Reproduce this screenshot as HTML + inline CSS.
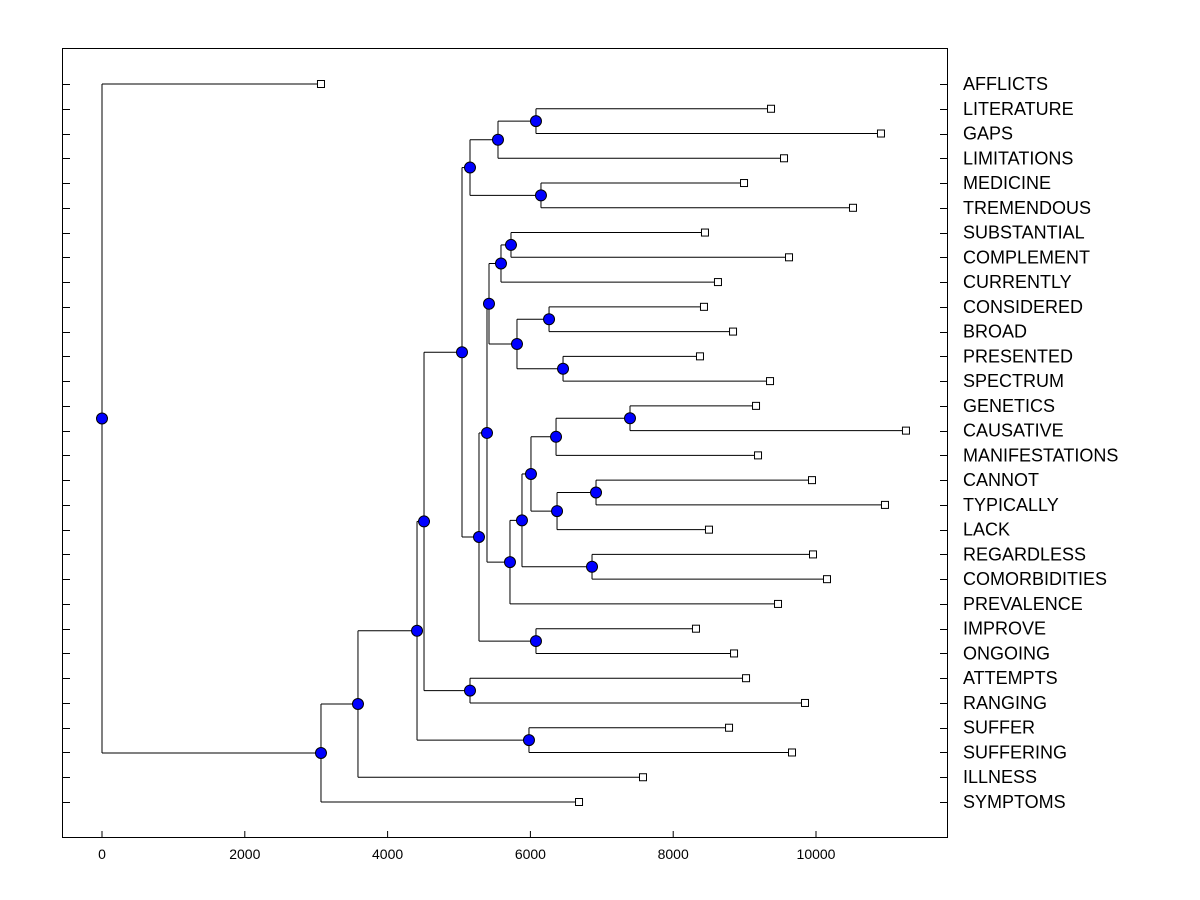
<!DOCTYPE html>
<html><head><meta charset="utf-8"><style>
html,body{margin:0;padding:0;background:#fff;}
svg{display:block;font-family:"Liberation Sans",sans-serif;}
</style></head><body>
<svg id="chart" width="1200" height="900" viewBox="0 0 1200 900" xmlns="http://www.w3.org/2000/svg">
<rect x="62.5" y="48.5" width="885" height="789" fill="#fff" stroke="#000" stroke-width="1"/>
<g id="g"></g>
</svg>
<script>
const labels=["AFFLICTS","LITERATURE","GAPS","LIMITATIONS","MEDICINE","TREMENDOUS","SUBSTANTIAL","COMPLEMENT","CURRENTLY","CONSIDERED","BROAD","PRESENTED","SPECTRUM","GENETICS","CAUSATIVE","MANIFESTATIONS","CANNOT","TYPICALLY","LACK","REGARDLESS","COMORBIDITIES","PREVALENCE","IMPROVE","ONGOING","ATTEMPTS","RANGING","SUFFER","SUFFERING","ILLNESS","SYMPTOMS"];
const leafValues=[3067,9370,10910,9552,8992,10518,8445,9622,8627,8431,8838,8375,9356,9160,11260,9188,9944,10966,8501,9958,10154,9468,8319,8852,9020,9846,8782,9664,7577,6681];
const mergeLeft=[1,30,4,31,6,34,9,11,36,35,13,40,16,42,41,19,44,46,39,22,48,33,24,51,26,53,55,56,0];
const mergeRight=[2,3,5,32,7,8,10,12,37,38,14,15,17,18,43,20,45,21,47,23,49,50,25,52,27,54,28,29,57];
const mergeHeights=[6078,5546,6148,5154,5728,5588,6261,6457,5812,5420,7395,6359,6919,6373,6008,6863,5882,5714,5392,6078,5280,5042,5154,4510,5980,4412,3585,3067,0];
const xTicks=[0,2000,4000,6000,8000,10000];

const NS="http://www.w3.org/2000/svg";
const g=document.getElementById('g');
const X0=102,SC=0.0714,Y0=84,DY=(802-84)/29;
const xs=v=>X0+v*SC;
const ys=i=>Y0+i*DY;
function mk(t,a){const e=document.createElementNS(NS,t);for(const k in a)e.setAttribute(k,a[k]);g.appendChild(e);return e;}

xTicks.forEach(t=>{
  const l=mk('line',{x1:xs(t),x2:xs(t),y1:837,y2:831,stroke:'#000'});
  
  
  const tx=mk('text',{x:xs(t),y:859,'text-anchor':'middle','font-size':14,fill:'#000'});
  tx.textContent=t;
  
  
});
labels.forEach((lab,i)=>{
  const y=Math.round(ys(i))+0.5;
  const a=mk('line',{x1:62,x2:70,y1:y,y2:y,stroke:'#000'});
  
  
  const b=mk('line',{x1:940,x2:947,y1:y,y2:y,stroke:'#000'});
  
  
  const t=mk('text',{x:963,y:ys(i)+6,'font-size':18,fill:'#000'});
  t.textContent=lab;
  
  
});

const nodeX=leafValues.map(v=>xs(v));
const nodeY=labels.map((_,i)=>ys(i));
mergeHeights.forEach((h,k)=>{
  const a=mergeLeft[k],b=mergeRight[k];
  nodeX[30+k]=xs(h);
  nodeY[30+k]=(nodeY[a]+nodeY[b])/2;
});
const dots=[];
mergeHeights.forEach((h,k)=>{
  const a=mergeLeft[k],b=mergeRight[k],x=xs(h);
  const v=mk('line',{x1:x,x2:x,y1:nodeY[a],y2:nodeY[b],stroke:'#000'});
  
  
  [a,b].forEach(c=>{
    const hl=mk('line',{x1:x,x2:nodeX[c],y1:nodeY[c],y2:nodeY[c],stroke:'#000'});
    
    
  });
  dots.push([x,nodeY[30+k]]);
});
leafValues.forEach((v,i)=>{
  const r=mk('rect',{x:xs(v)-3.5,y:ys(i)-3.5,width:7,height:7,fill:'#fff',stroke:'#000'});
  
  
});
dots.forEach(d=>{
  const c=mk('circle',{cx:d[0],cy:d[1],r:5.5,fill:'#0000ff',stroke:'#000','stroke-width':1});
  
  
});
</script>
</body></html>
